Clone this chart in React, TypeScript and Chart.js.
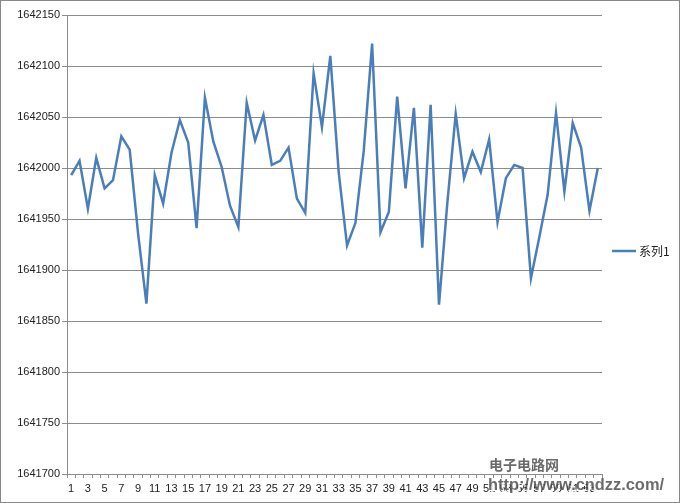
import React, { useEffect, useRef } from "react";
import { Chart, registerables } from "chart.js";

Chart.register(...registerables);

const categories: string[] = Array.from({ length: 64 }, (_, i) => String(i + 1));
const seriesName = "系列1";
const values: number[] = [
  1641993, 1642007, 1641960, 1642010, 1641980, 1641988, 1642031, 1642018,
  1641936, 1641867, 1641993, 1641965, 1642015, 1642047, 1642025, 1641941,
  1642069, 1642026, 1642001, 1641963, 1641942, 1642064, 1642027, 1642052,
  1642003, 1642007, 1642020, 1641970, 1641956, 1642093, 1642040, 1642110,
  1641996, 1641924, 1641946, 1642017, 1642122, 1641937, 1641957, 1642070,
  1641980, 1642059, 1641922, 1642062, 1641866, 1641966, 1642053, 1641990,
  1642016, 1641996, 1642028, 1641947, 1641990, 1642003, 1642000, 1641892,
  1641932, 1641974, 1642054, 1641977, 1642044, 1642020, 1641958, 1642000,
];
const yMin = 1641700;
const yMax = 1642150;
const yStep = 50;
const watermarkTitle = "电子电路网";
const watermarkUrl = "http://www.cndzz.com/";

const LINE_COLOR = "#4A7EBB";
const GRID_COLOR = "#8C8C8C";

const decorPlugin = {
  id: "decor",
  afterDraw(chart: any) {
    const ctx = chart.ctx;
    ctx.save();
    // legend
    const ly = 251;
    ctx.strokeStyle = LINE_COLOR;
    ctx.lineWidth = 2.5;
    ctx.beginPath();
    ctx.moveTo(612, ly);
    ctx.lineTo(636, ly);
    ctx.stroke();
    ctx.fillStyle = "#222";
    ctx.font = '12px "Noto Sans CJK SC"';
    ctx.textBaseline = "middle";
    ctx.textAlign = "left";
    ctx.fillText(seriesName, 639, ly);
    // watermark
    ctx.fillStyle = "rgba(80,80,80,0.85)";
    ctx.font = 'bold 14px "Noto Sans CJK SC"';
    ctx.fillText(watermarkTitle, 489, 465);
    ctx.font = 'bold 16px "Liberation Sans"';
    const w = ctx.measureText(watermarkUrl).width;
    const sx = 176 / w;
    ctx.save();
    ctx.translate(488, 486);
    ctx.scale(sx, 1);
    ctx.fillStyle = "rgba(255,255,255,0.9)";
    ctx.fillText(watermarkUrl, 2, 2);
    ctx.fillStyle = "rgba(70,70,70,0.8)";
    ctx.fillText(watermarkUrl, 0, 0);
    ctx.restore();
    // chart border
    ctx.strokeStyle = "#888";
    ctx.lineWidth = 1;
    ctx.strokeRect(0.5, 0.5, chart.width - 1, chart.height - 1);
    ctx.restore();
  },
};

export default function App() {
  const ref = useRef<HTMLCanvasElement | null>(null);
  useEffect(() => {
    document.body.style.margin = "0";
    const chart = new Chart(ref.current as HTMLCanvasElement, {
      type: "line",
      data: {
        labels: categories,
        datasets: [
          {
            label: seriesName,
            data: values,
            borderColor: LINE_COLOR,
            borderWidth: 2.5,
            pointRadius: 0,
            tension: 0,
            fill: false,
          },
        ],
      },
      options: {
        animation: false,
        responsive: false,
        maintainAspectRatio: false,
        layout: { padding: { left: 0, right: 78, top: 15, bottom: 0 } },
        plugins: { legend: { display: false }, tooltip: { enabled: false } },
        scales: {
          x: {
            offset: true,
            afterFit: (s: any) => {
              s.height = 29;
            },
            grid: {
              display: true,
              drawOnChartArea: false,
              offset: true,
              tickLength: 4,
              color: GRID_COLOR,
            },
            border: { display: true, color: GRID_COLOR },
            ticks: {
              autoSkip: false,
              maxRotation: 0,
              minRotation: 0,
              padding: 4,
              color: "#222",
              font: { family: "Liberation Sans", size: 11 },
              callback: (_v: any, i: number) => (i % 2 === 0 ? categories[i] : ""),
            },
          },
          y: {
            min: yMin,
            max: yMax,
            afterFit: (s: any) => {
              s.width = 67;
            },
            grid: { color: GRID_COLOR, tickLength: 5 },
            border: { display: true, color: GRID_COLOR },
            ticks: {
              stepSize: yStep,
              padding: 2,
              color: "#222",
              font: { family: "Liberation Sans", size: 11 },
              callback: (v: any) => String(v),
            },
          },
        },
      },
      plugins: [decorPlugin],
    });
    return () => chart.destroy();
  }, []);
  return <canvas ref={ref} width={680} height={503} style={{ display: "block" }} />;
}
